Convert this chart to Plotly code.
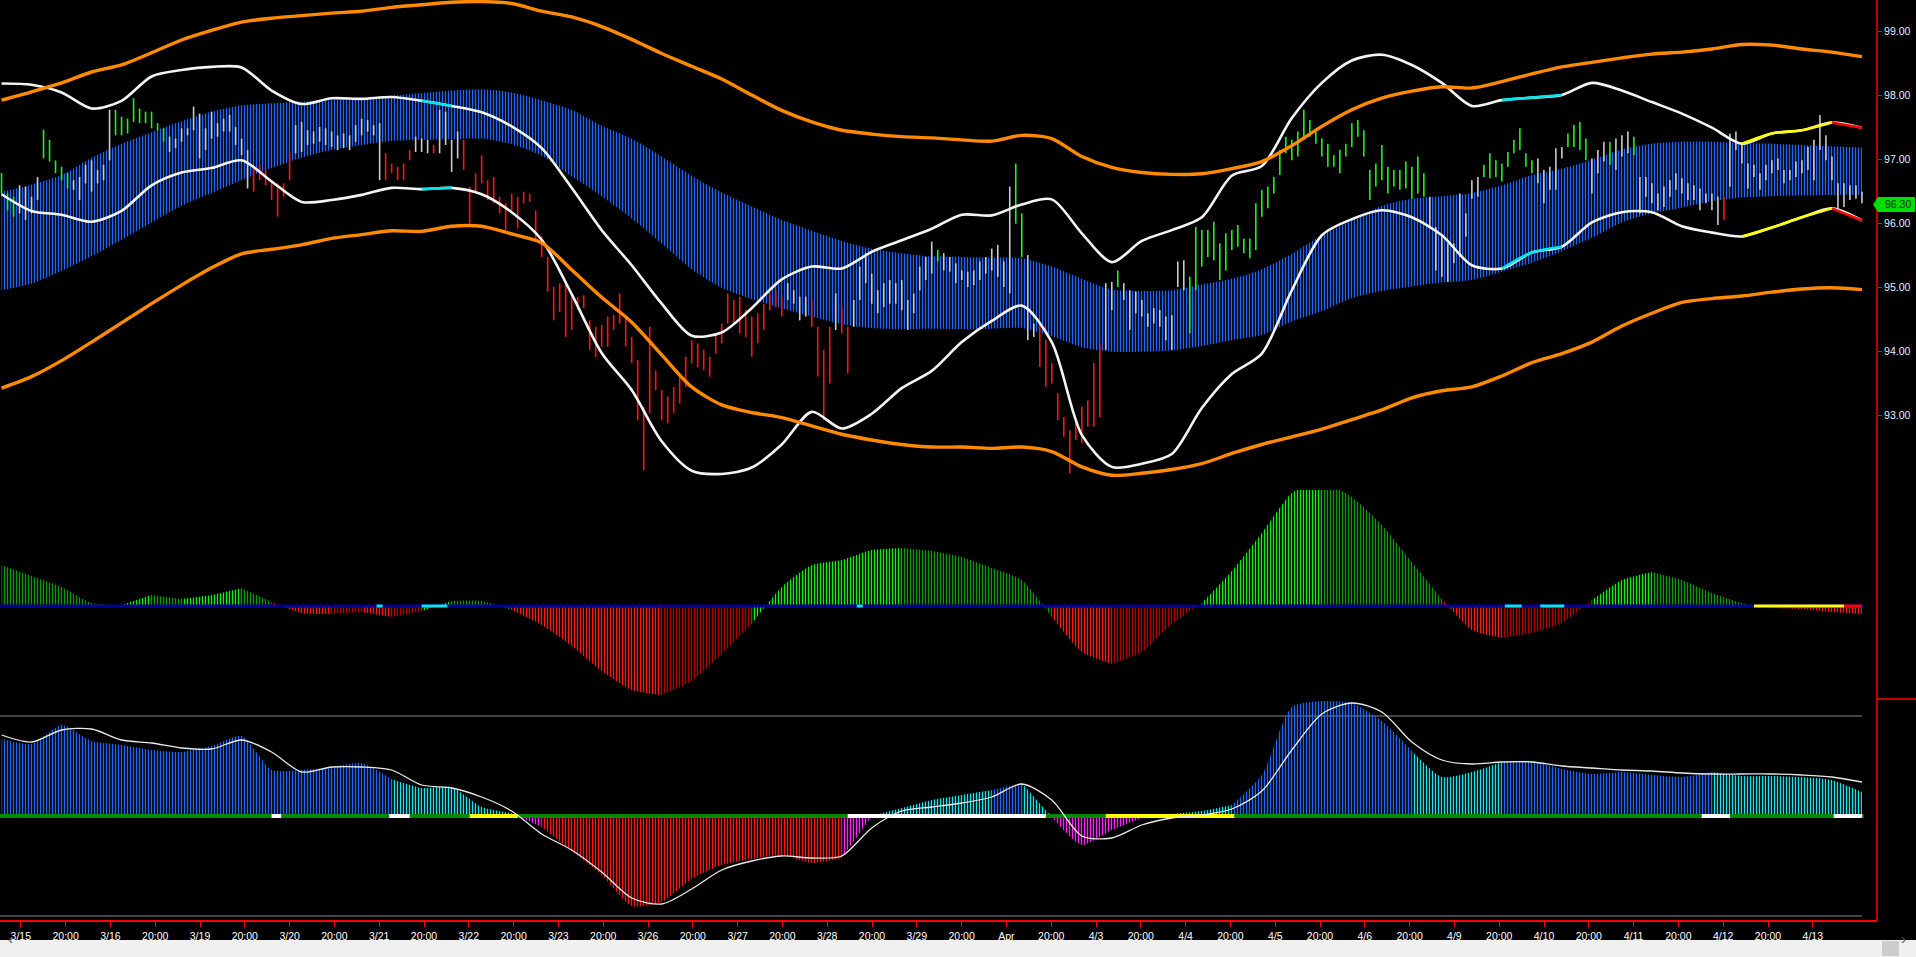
import plotly.graph_objects as go

# ---------------------------------------------------------------- data
DAY_LABELS = ["3/15", "3/16", "3/19", "3/20", "3/21", "3/22", "3/23", "3/26", "3/27", "3/28",
              "3/29", "Apr", "4/3", "4/4", "4/5", "4/6", "4/9", "4/10", "4/11", "4/12", "4/13"]
MID_LABEL = "20:00"

HIGH = [
    96.79, 96.47, 96.42, 96.60, 96.58, 96.42, 96.73, 97.47, 97.31, 96.99,
    96.89, 96.79, 96.68, 96.73, 96.92, 96.99, 96.84, 96.92, 97.78, 97.78,
    97.67, 97.64, 97.96, 97.80, 97.75, 97.75, 97.57, 97.49, 97.36, 97.33,
    97.49, 97.49, 97.83, 97.72, 97.49, 97.75, 97.57, 97.64, 97.70, 97.51,
    97.33, 97.15, 96.89, 96.92, 96.84, 96.68, 96.63, 96.63, 97.12, 97.54,
    97.59, 97.46, 97.44, 97.51, 97.49, 97.44, 97.38, 97.41, 97.38, 97.54,
    97.64, 97.62, 97.54, 97.57, 97.10, 96.94, 96.89, 96.94, 97.15, 97.36,
    97.33, 97.31, 97.23, 97.78, 97.75, 97.31, 97.44, 97.31, 96.58, 96.79,
    97.07, 96.68, 96.73, 96.42, 96.32, 96.47, 96.42, 96.50, 96.47, 96.21,
    95.80, 95.48, 95.01, 95.07, 95.07, 94.86, 94.86, 94.88, 94.49, 94.39,
    94.42, 94.55, 94.57, 94.91, 94.55, 94.23, 93.87, 93.14, 94.39, 93.71,
    93.40, 93.30, 93.45, 93.61, 93.92, 94.18, 94.13, 94.03, 93.92, 94.29,
    94.44, 94.91, 94.81, 94.86, 94.65, 94.55, 94.60, 94.75, 94.91, 94.96,
    94.86, 95.07, 94.96, 94.86, 94.86, 94.81, 94.39, 94.03, 94.39, 94.91,
    94.70, 94.39, 94.81, 95.33, 95.54, 95.22, 94.96, 95.07, 95.12, 95.07,
    95.12, 94.81, 94.91, 95.33, 95.48, 95.72, 95.59, 95.54, 95.48, 95.38,
    95.27, 95.25, 95.27, 95.41, 95.48, 95.61, 95.67, 95.41, 96.58, 96.94,
    96.16, 95.51, 94.44, 94.44, 94.18, 93.82, 93.35, 92.98, 92.77, 92.88,
    93.14, 93.24, 93.82, 94.13, 95.07, 95.09, 95.27, 95.07, 94.96, 94.94,
    94.81, 94.60, 94.68, 94.65, 94.55, 94.57, 95.41, 95.43, 95.17, 95.95,
    95.90, 95.90, 96.03, 95.69, 95.85, 95.90, 95.98, 95.77, 95.77, 96.32,
    96.53, 96.58, 96.73, 97.15, 97.36, 97.31, 97.44, 97.78, 97.62, 97.46,
    97.33, 97.25, 97.07, 97.15, 97.25, 97.57, 97.62, 97.46, 96.84, 96.94,
    97.23, 96.89, 96.84, 96.84, 96.97, 96.89, 97.05, 96.79, 96.42, 95.95,
    95.80, 95.69, 95.69, 96.47, 96.16, 96.68, 96.73, 96.92, 97.10, 96.99,
    96.94, 97.12, 97.31, 97.49, 97.10, 96.99, 97.02, 96.84, 96.89, 97.18,
    97.20, 97.41, 97.54, 97.59, 97.33, 97.02, 97.15, 97.28, 97.28, 97.33,
    97.38, 97.44, 97.36, 96.73, 96.73, 96.63, 96.47, 96.58, 96.68, 96.79,
    96.71, 96.63, 96.60, 96.55, 96.47, 96.47, 96.42, 96.42, 97.41, 97.44,
    97.25, 96.94, 96.92, 96.79, 96.92, 96.99, 97.02, 96.84, 96.84, 96.97,
    96.99, 97.20, 97.31, 97.70, 97.38, 97.05, 96.63, 96.63, 96.60, 96.60, 96.50,
]
LOW = [
    96.47, 96.21, 96.11, 96.16, 96.06, 96.16, 96.37, 97.02, 96.97, 96.79,
    96.68, 96.55, 96.53, 96.37, 96.63, 96.50, 96.63, 96.68, 96.99, 97.38,
    97.38, 97.41, 97.59, 97.57, 97.57, 97.49, 97.46, 97.28, 97.12, 97.18,
    97.28, 97.38, 97.46, 97.02, 97.15, 97.33, 97.36, 97.44, 97.44, 97.23,
    97.07, 96.55, 96.50, 96.68, 96.60, 96.37, 96.11, 96.42, 96.68, 97.10,
    97.12, 97.23, 97.25, 97.28, 97.23, 97.20, 97.15, 97.18, 97.15, 97.28,
    97.38, 97.44, 97.38, 96.68, 96.68, 96.79, 96.68, 96.68, 96.99, 97.12,
    97.12, 97.10, 97.10, 97.10, 97.23, 96.81, 97.02, 96.84, 96.00, 96.50,
    96.63, 96.37, 96.32, 96.16, 95.90, 96.21, 95.93, 96.32, 96.34, 95.72,
    95.48, 94.94, 94.49, 94.62, 94.23, 94.34, 94.65, 94.68, 94.03, 93.92,
    94.08, 94.08, 94.34, 94.44, 94.08, 93.82, 92.93, 92.15, 93.04, 93.40,
    92.93, 92.88, 93.04, 93.19, 93.45, 93.82, 93.76, 93.71, 93.61, 93.97,
    94.13, 94.44, 94.44, 94.29, 94.23, 93.92, 94.13, 94.34, 94.65, 94.70,
    94.55, 94.81, 94.75, 94.49, 94.55, 94.39, 93.61, 92.93, 93.50, 94.34,
    94.29, 93.66, 94.39, 94.81, 95.07, 94.75, 94.60, 94.70, 94.75, 94.75,
    94.65, 94.34, 94.60, 94.96, 95.12, 95.22, 95.41, 95.27, 95.25, 95.07,
    95.12, 95.01, 95.04, 95.12, 95.22, 95.27, 95.17, 95.01, 94.91, 96.00,
    95.48, 94.18, 94.23, 93.76, 93.45, 93.50, 92.93, 92.67, 92.10, 92.62,
    92.57, 92.83, 92.83, 92.98, 94.03, 94.65, 95.01, 94.81, 94.34, 94.60,
    94.55, 94.39, 94.44, 94.39, 94.18, 94.03, 95.01, 94.96, 94.29, 94.96,
    95.33, 95.48, 95.43, 95.12, 95.27, 95.59, 95.64, 95.54, 95.46, 95.59,
    96.11, 96.24, 96.47, 96.76, 97.10, 96.99, 97.05, 97.31, 97.36, 97.25,
    97.05, 96.89, 96.89, 96.79, 97.05, 97.20, 97.36, 97.05, 96.37, 96.58,
    96.68, 96.47, 96.58, 96.53, 96.55, 96.39, 96.47, 96.42, 95.95, 95.27,
    95.17, 95.09, 95.38, 95.48, 95.80, 96.39, 96.42, 96.73, 96.71, 96.73,
    96.66, 96.89, 97.10, 97.15, 96.89, 96.79, 96.63, 96.32, 96.53, 96.53,
    97.02, 97.20, 97.20, 97.15, 96.99, 96.47, 96.79, 96.97, 96.92, 96.84,
    97.05, 97.10, 97.07, 96.16, 96.42, 96.32, 96.21, 96.26, 96.42, 96.53,
    96.47, 96.37, 96.37, 96.21, 96.32, 96.21, 95.98, 96.06, 96.58, 97.15,
    96.94, 96.55, 96.73, 96.53, 96.68, 96.79, 96.84, 96.63, 96.68, 96.73,
    96.79, 96.84, 96.68, 97.15, 96.99, 96.68, 96.21, 96.26, 96.37, 96.39, 96.32,
]
# bar colour state: G = up trend, W = neutral, R = down trend (run-length)
BAR_STATE_RUNS = [("G", 3), ("W", 4), ("G", 5), ("W", 7), ("G", 9), ("W", 14), ("R", 7),
                  ("W", 15), ("R", 5), ("W", 3), ("R", 1), ("W", 4), ("R", 54), ("W", 4),
                  ("R", 4), ("W", 1), ("R", 2), ("W", 14), ("G", 1), ("W", 12), ("G", 2),
                  ("W", 2), ("R", 11), ("W", 2), ("G", 1), ("W", 11), ("G", 40), ("W", 9),
                  ("G", 9), ("W", 5), ("G", 4), ("W", 3), ("G", 1), ("W", 3), ("G", 1),
                  ("W", 14), ("R", 1), ("W", 23)]
LAST_PRICE = 96.30

# indicator lines, one value every 5 bars
ORANGE_UP = [97.93, 98.06, 98.20, 98.37, 98.48, 98.67, 98.87, 99.02, 99.15, 99.21,
             99.25, 99.29, 99.32, 99.38, 99.42, 99.46, 99.47, 99.44, 99.32, 99.23,
             99.08, 98.88, 98.66, 98.46, 98.26, 98.01, 97.77, 97.59, 97.46, 97.40,
             97.36, 97.34, 97.31, 97.29, 97.38, 97.33, 97.05, 96.88, 96.80, 96.77,
             96.78, 96.86, 96.97, 97.22, 97.52, 97.78, 97.96, 98.07, 98.14, 98.12,
             98.22, 98.34, 98.45, 98.52, 98.59, 98.65, 98.68, 98.73, 98.80, 98.79,
             98.73, 98.68, 98.61]
ORANGE_LO = [93.43, 93.61, 93.86, 94.15, 94.45, 94.75, 95.04, 95.31, 95.53, 95.60,
             95.67, 95.77, 95.83, 95.89, 95.88, 95.96, 95.96, 95.84, 95.70, 95.28,
             94.85, 94.46, 93.95, 93.45, 93.17, 93.05, 92.97, 92.84, 92.71, 92.62,
             92.55, 92.51, 92.51, 92.49, 92.51, 92.44, 92.20, 92.07, 92.10, 92.16,
             92.25, 92.41, 92.55, 92.67, 92.79, 92.94, 93.09, 93.28, 93.39, 93.45,
             93.62, 93.83, 93.97, 94.15, 94.40, 94.60, 94.77, 94.83, 94.87, 94.93,
             94.98, 95.00, 94.97]
WHITE_UP = [98.19, 98.17, 98.05, 97.80, 97.92, 98.30, 98.40, 98.45, 98.44, 98.08,
            97.87, 97.96, 97.95, 97.98, 97.92, 97.84, 97.74, 97.52, 97.18, 96.56,
            95.90, 95.35, 94.75, 94.25, 94.30, 94.68, 95.13, 95.33, 95.30, 95.56,
            95.74, 95.92, 96.14, 96.13, 96.30, 96.38, 95.85, 95.40, 95.73, 95.90,
            96.10, 96.75, 96.90, 97.65, 98.20, 98.55, 98.64, 98.48, 98.20, 97.84,
            97.93, 97.97, 98.01, 98.20, 98.08, 97.90, 97.72, 97.50, 97.25, 97.41,
            97.46, 97.58, 97.50]
WHITE_LO = [96.46, 96.20, 96.14, 96.03, 96.20, 96.60, 96.80, 96.87, 96.99, 96.66,
            96.34, 96.37, 96.45, 96.56, 96.54, 96.56, 96.46, 96.18, 95.75, 94.90,
            93.98, 93.40, 92.60, 92.14, 92.09, 92.19, 92.55, 93.06, 92.80, 93.03,
            93.43, 93.70, 94.15, 94.48, 94.72, 94.15, 92.70, 92.20, 92.25, 92.40,
            93.12, 93.65, 93.97, 94.96, 95.82, 96.07, 96.21, 96.10, 95.82, 95.35,
            95.30, 95.55, 95.64, 96.02, 96.18, 96.18, 95.96, 95.86, 95.80, 95.94,
            96.10, 96.24, 96.05]
BAND_TOP = [96.50, 96.61, 96.76, 97.03, 97.25, 97.43, 97.60, 97.75, 97.85, 97.88,
            97.91, 97.93, 97.96, 98.00, 98.04, 98.08, 98.10, 98.05, 97.93, 97.78,
            97.53, 97.33, 97.05, 96.75, 96.49, 96.27, 96.06, 95.89, 95.73, 95.61,
            95.54, 95.49, 95.48, 95.47, 95.46, 95.33, 95.14, 94.97, 94.95, 94.96,
            95.05, 95.14, 95.29, 95.53, 95.82, 96.05, 96.28, 96.39, 96.43, 96.48,
            96.60, 96.76, 96.86, 97.00, 97.16, 97.25, 97.28, 97.28, 97.26, 97.25,
            97.23, 97.21, 97.19]
BAND_BOT = [94.96, 95.06, 95.26, 95.49, 95.75, 96.02, 96.28, 96.48, 96.68, 96.87,
            97.03, 97.15, 97.23, 97.29, 97.31, 97.32, 97.33, 97.24, 97.06, 96.74,
            96.43, 96.08, 95.69, 95.29, 95.00, 94.82, 94.68, 94.55, 94.43, 94.37,
            94.35, 94.36, 94.35, 94.36, 94.37, 94.24, 94.07, 94.00, 94.00, 94.02,
            94.09, 94.18, 94.26, 94.47, 94.63, 94.84, 94.95, 95.02, 95.08, 95.12,
            95.25, 95.39, 95.57, 95.78, 96.02, 96.16, 96.25, 96.35, 96.41, 96.43,
            96.44, 96.45, 96.45]
# colour flags of the white envelope, by sample index range
ENVELOPE_MARKS = [(14, 15, "cyan"), (50, 52, "cyan"), (58, 61, "yellow"), (61, 62, "red")]

MACD_HIST = [0.41, 0.30, 0.19, 0.03, 0.01, 0.11, 0.07, 0.11, 0.18, 0.04,
             -0.07, -0.08, -0.06, -0.11, -0.05, 0.05, 0.05, -0.04, -0.19, -0.40,
             -0.65, -0.84, -0.89, -0.75, -0.48, -0.18, 0.19, 0.41, 0.46, 0.56,
             0.58, 0.55, 0.49, 0.38, 0.26, -0.11, -0.46, -0.58, -0.46, -0.18,
             0.03, 0.35, 0.73, 1.13, 1.26, 1.09, 0.81, 0.44, 0.07, -0.24,
             -0.32, -0.27, -0.17, 0.06, 0.26, 0.34, 0.26, 0.13, 0.03, -0.02,
             -0.03, -0.06, -0.08]
OSC_HIST = [0.77, 0.72, 0.91, 0.75, 0.71, 0.66, 0.64, 0.70, 0.80, 0.46,
            0.46, 0.49, 0.53, 0.37, 0.28, 0.29, 0.09, 0.03, -0.11, -0.35,
            -0.59, -0.90, -0.86, -0.63, -0.49, -0.43, -0.39, -0.47, -0.42, 0.00,
            0.08, 0.16, 0.21, 0.26, 0.33, -0.01, -0.29, -0.14, -0.02, 0.02,
            0.05, 0.11, 0.41, 1.09, 1.15, 1.13, 0.95, 0.65, 0.39, 0.44,
            0.54, 0.55, 0.47, 0.42, 0.44, 0.41, 0.39, 0.44, 0.40, 0.40,
            0.39, 0.36, 0.24]
OSC_SIGNAL = [0.81, 0.74, 0.86, 0.87, 0.76, 0.73, 0.68, 0.67, 0.76, 0.64,
              0.44, 0.49, 0.49, 0.46, 0.31, 0.28, 0.19, 0.05, -0.18, -0.34,
              -0.56, -0.82, -0.88, -0.73, -0.54, -0.45, -0.40, -0.42, -0.40, -0.12,
              0.05, 0.09, 0.13, 0.19, 0.32, 0.16, -0.20, -0.22, -0.09, -0.02,
              0.01, 0.07, 0.25, 0.66, 1.02, 1.13, 1.04, 0.74, 0.56, 0.52,
              0.54, 0.54, 0.50, 0.48, 0.46, 0.45, 0.43, 0.42, 0.42, 0.42,
              0.41, 0.39, 0.34]
# b blue, c cyan, r red, m magenta  (one code per segment between samples)
OSC_STATE = ("bbbbbbbbbbbbb" + "cccc" + "m" + "rrrrrrrrrr" + "m" + "cccc" + "b" + "c"
             + "mmm" + "ccc" + "bbbbbb" + "ccc" + "bbbbbbb" + "ccccc")
OSC_LEVELS = [1.0, -1.0]
# state flags drawn on the zero lines, in bar index ranges
ZERO2_MARKS = [(62.5, 63.5, "cyan"), (70, 74.3, "cyan"), (142.5, 143.5, "cyan"),
               (250.5, 253.3, "cyan"), (256.4, 260.4, "cyan"), (292, 307, "yellow"), (307, 310, "red")]
ZERO3_MARKS = [(45, 46.6, "white"), (64.6, 68, "white"), (78, 86, "yellow"), (141, 174, "white"),
               (184, 205.4, "yellow"), (283.3, 288, "white"), (305.3, 310, "white")]

# ---------------------------------------------------------------- layout constants
BARS_PER_DAY = 14.93
FIRST_BAR = -0.215
STEP = 5
W, H = 1916, 957
PLOT_W, PLOT_H = 1877, 920
FONT = "Liberation Sans, Arial, sans-serif"
MARK_COL = {"cyan": "#00E5EE", "yellow": "#FFFF00", "red": "#FF0000",
            "white": "#FFFFFF", "magenta": "#FF00FF"}

N = len(HIGH)
assert len(LOW) == N
state = "".join(c * n for c, n in BAR_STATE_RUNS)
assert len(state) == N


def bx(k):
    return FIRST_BAR + k / BARS_PER_DAY


xb = [bx(k) for k in range(N)]
xl = [xb[k] for k in range(0, N, STEP)]
assert len(xl) == len(ORANGE_UP) == len(WHITE_UP) == len(BAND_TOP) == len(MACD_HIST)

fig = go.Figure()
NOHOV = dict(hoverinfo="skip", showlegend=False)

# ---- price panel
fig.add_trace(go.Scatter(x=xl, y=BAND_BOT, mode="lines", yaxis="y",
                         line=dict(width=0, shape="spline", smoothing=0.7), **NOHOV))
fig.add_trace(go.Scatter(x=xl, y=BAND_TOP, mode="lines", yaxis="y", fill="tonexty",
                         fillcolor="rgba(0,0,0,0)",
                         fillpattern=dict(shape="|", fgcolor="#2266FF", bgcolor="rgba(0,0,0,0)",
                                          size=3, solidity=0.45, fillmode="replace"),
                         line=dict(width=0, shape="spline", smoothing=0.7), **NOHOV))

BAR_COL = {"G": "#1BF51B", "W": "#CACACA", "R": "#FF1414"}
for code, col in BAR_COL.items():
    xs, ys = [], []
    for k in range(N):
        if state[k] == code:
            xs += [xb[k], xb[k], None]
            ys += [LOW[k], HIGH[k], None]
    fig.add_trace(go.Scatter(x=xs, y=ys, mode="lines", yaxis="y",
                             line=dict(color=col, width=1.6), **NOHOV))

for series in (WHITE_UP, WHITE_LO):
    fig.add_trace(go.Scatter(x=xl, y=series, mode="lines", yaxis="y",
                             line=dict(color="#F4F4F4", width=2.6, shape="spline", smoothing=0.8),
                             **NOHOV))
    for a, b, c in ENVELOPE_MARKS:
        fig.add_trace(go.Scatter(x=xl[a:b + 1], y=series[a:b + 1], mode="lines", yaxis="y",
                                 line=dict(color=MARK_COL[c], width=2.6, shape="spline", smoothing=0.8),
                                 **NOHOV))
for series in (ORANGE_UP, ORANGE_LO):
    fig.add_trace(go.Scatter(x=xl, y=series, mode="lines", yaxis="y",
                             line=dict(color="#FF8A00", width=3.4, shape="spline", smoothing=0.8),
                             **NOHOV))


# ---- histogram helper
def add_hist(values, seg_codes, colmap, yaxis):
    s = 0
    n = len(seg_codes)
    for j in range(1, n + 1):
        if j == n or seg_codes[j] != seg_codes[s]:
            col = colmap[seg_codes[s]]
            fig.add_trace(go.Scatter(
                x=xl[s:j + 1], y=values[s:j + 1], mode="lines", yaxis=yaxis, fill="tozeroy",
                fillcolor="rgba(0,0,0,0)",
                fillpattern=dict(shape="|", fgcolor=col, bgcolor="rgba(0,0,0,0)",
                                 size=3, solidity=0.45, fillmode="replace"),
                line=dict(width=0, shape="spline", smoothing=0.6), **NOHOV))
            s = j


# ---- panel 2 : momentum histogram (colour by direction)
codes2 = []
for i in range(len(MACD_HIST) - 1):
    a, b = MACD_HIST[i], MACD_HIST[i + 1]
    if a + b >= 0:
        codes2.append("G" if b > a else "g")
    else:
        codes2.append("R" if b < a else "r")
add_hist(MACD_HIST, codes2, {"G": "#10F010", "g": "#0A9A0A", "R": "#FF1A1A", "r": "#B00000"}, "y2")
fig.add_trace(go.Scatter(x=[xb[0] - 0.05, xb[-1] + 0.02], y=[0, 0], mode="lines", yaxis="y2",
                         line=dict(color="#000098", width=3), **NOHOV))
for a, b, c in ZERO2_MARKS:
    fig.add_trace(go.Scatter(x=[bx(a), bx(b)], y=[0, 0], mode="lines", yaxis="y2",
                             line=dict(color=MARK_COL[c], width=3), **NOHOV))

# ---- panel 3 : oscillator
for lv in OSC_LEVELS:
    fig.add_trace(go.Scatter(x=[xb[0] - 0.05, xb[-1]], y=[lv, lv], mode="lines", yaxis="y3",
                             line=dict(color="#8A8A8A", width=1), **NOHOV))
add_hist(OSC_HIST, OSC_STATE, {"b": "#2266FF", "c": "#10E4EC", "r": "#FF1414", "m": "#FF22FF"}, "y3")
fig.add_trace(go.Scatter(x=[xb[0] - 0.05, xb[-1] + 0.02], y=[0, 0], mode="lines", yaxis="y3",
                         line=dict(color="#008A00", width=4), **NOHOV))
for a, b, c in ZERO3_MARKS:
    fig.add_trace(go.Scatter(x=[bx(a), bx(b)], y=[0, 0], mode="lines", yaxis="y3",
                             line=dict(color=MARK_COL[c], width=4), **NOHOV))
fig.add_trace(go.Scatter(x=xl, y=OSC_SIGNAL, mode="lines", yaxis="y3",
                         line=dict(color="#E8E8E8", width=1.3, shape="spline", smoothing=0.8), **NOHOV))

# ---------------------------------------------------------------- axes / layout
tickvals, ticktext = [], []
for j, lab in enumerate(DAY_LABELS):
    tickvals.append(j)
    ticktext.append(lab)
    if j < len(DAY_LABELS) - 1:
        tickvals.append(j + 0.5)
        ticktext.append(MID_LABEL)

x_left = -20.8 / 89.6
x_right = (PLOT_W - 20.8) / 89.6
d_price = (PLOT_H - 490) / PLOT_H
d_osc = (PLOT_H - 699) / PLOT_H

fig.update_layout(
    width=W, height=H, autosize=False,
    margin=dict(l=0, r=W - PLOT_W, t=0, b=H - PLOT_H),
    paper_bgcolor="#000000", plot_bgcolor="#000000",
    showlegend=False, hovermode=False,
    font=dict(family=FONT, color="#FFFFFF", size=11),
    xaxis=dict(range=[x_left, x_right], anchor="y3", showgrid=False, zeroline=False,
               showline=True, linecolor="#FF0000", linewidth=2,
               ticks="outside", ticklen=5, tickcolor="#FF0000", tickwidth=1,
               tickvals=tickvals, ticktext=ticktext,
               tickfont=dict(family=FONT, size=10.5, color="#FFFFFF")),
    yaxis=dict(domain=[d_price, 1], range=[91.839, 99.495], side="right", anchor="x",
               showgrid=False, zeroline=False, showline=False,
               ticks="outside", ticklen=4, tickcolor="#FF0000", tickwidth=1,
               tickvals=[93, 94, 95, 96, 97, 98, 99], tickformat=".2f",
               tickfont=dict(family=FONT, size=10.5, color="#E4EEFF")),
    yaxis2=dict(domain=[d_osc, d_price], range=[-0.93, 1.16], anchor="x",
                showgrid=False, zeroline=False, showticklabels=False, ticks=""),
    yaxis3=dict(domain=[0, d_osc], range=[-1.04, 1.17], anchor="x",
                showgrid=False, zeroline=False, showticklabels=False, ticks=""),
)

shapes = [
    dict(type="line", xref="paper", yref="paper", x0=1, x1=1, y0=0, y1=1,
         line=dict(color="#FF0000", width=1.5)),
    dict(type="line", xref="paper", yref="paper", x0=1, x1=W / PLOT_W, y0=d_osc, y1=d_osc,
         line=dict(color="#FF0000", width=1.5)),
    # scroll bar strip
    dict(type="rect", xref="paper", yref="paper", x0=0, x1=W / PLOT_W,
         y0=(PLOT_H - 957) / PLOT_H, y1=(PLOT_H - 940) / PLOT_H,
         fillcolor="#F0F0F0", line=dict(width=0), layer="above"),
    dict(type="rect", xref="paper", yref="paper", x0=1882 / PLOT_W, x1=1899 / PLOT_W,
         y0=(PLOT_H - 956) / PLOT_H, y1=(PLOT_H - 941) / PLOT_H,
         fillcolor="#CDCDCD", line=dict(width=0), layer="above"),
    # last price marker
    dict(type="path", xref="paper", yref="y", xsizemode="pixel", ysizemode="pixel",
         xanchor=1, yanchor=LAST_PRICE,
         path="M -4,0 L 1,7.5 L 38,7.5 L 38,-7.5 L 1,-7.5 Z",
         fillcolor="#00E000", line=dict(width=0), layer="above"),
]
fig.update_layout(shapes=shapes)

fig.add_annotation(x=1, xref="paper", y=LAST_PRICE, yref="y", text=f"{LAST_PRICE:.2f}",
                   showarrow=False, xanchor="left", yanchor="middle", xshift=6,
                   font=dict(family=FONT, size=10.5, color="#0A300A"))
fig.add_annotation(x=6 / PLOT_W, xref="paper", y=(PLOT_H - 948.5) / PLOT_H, yref="paper",
                   text="‹", showarrow=False, font=dict(family=FONT, size=15, color="#555555"))
fig.add_annotation(x=1908 / PLOT_W, xref="paper", y=(PLOT_H - 948.5) / PLOT_H, yref="paper",
                   text="›", showarrow=False, font=dict(family=FONT, size=15, color="#555555"))

fig.write_html("out.html", config={"displayModeBar": False},
               post_script="document.body.style.margin='0';document.body.style.overflow='hidden';"
                           "document.body.style.background='#000';")
